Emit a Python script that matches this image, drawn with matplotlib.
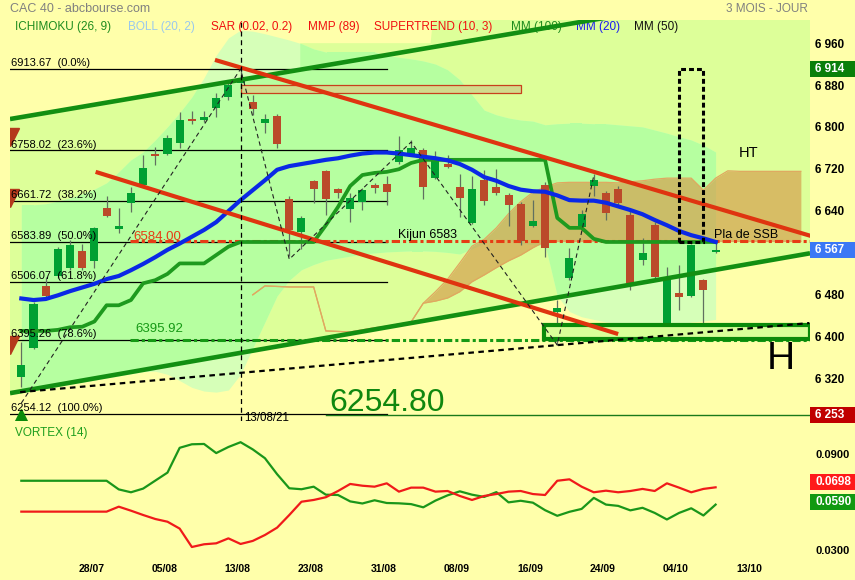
import numpy as np
import matplotlib.pyplot as plt
from matplotlib.patches import Rectangle, Polygon
from matplotlib.transforms import blended_transform_factory

plt.rcParams['font.family'] = ['Liberation Sans', 'DejaVu Sans']

# ---------------- data ----------------
date_labels = ['28/07', '05/08', '13/08', '23/08', '31/08', '08/09', '16/09', '24/09', '04/10', '13/10']
date_pos = [6, 12, 18, 24, 30, 36, 42, 48, 54, 60]

opens = [6325, 6381, 6499, 6518, 6533, 6566, 6547, 6647, 6607, 6657,
         6692, 6751, 6751, 6772, 6819, 6817, 6840, 6861, 6886, 6850,
         6811, 6824, 6665, 6603, 6700, 6719, 6684, 6646, 6659, 6690,
         6693, 6735, 6751, 6759, 6705, 6732, 6689, 6619, 6702, 6689,
         6673, 6655, 6614, 6691, 6450, 6514, 6611, 6690, 6676, 6684,
         6635, 6549, 6616, 6428, 6485, 6480, 6510, 6563]
highs = [6392, 6469, 6517, 6574, 6587, 6580, 6611, 6670, 6647, 6689,
         6749, 6765, 6788, 6832, 6833, 6833, 6867, 6889, 6914, 6864,
         6828, 6828, 6671, 6633, 6702, 6721, 6686, 6676, 6686, 6696,
         6709, 6786, 6778, 6762, 6756, 6749, 6713, 6709, 6721, 6722,
         6677, 6660, 6663, 6698, 6472, 6571, 6644, 6713, 6680, 6690,
         6644, 6590, 6622, 6535, 6539, 6580, 6512, 6582]
lows = [6305, 6378, 6478, 6515, 6530, 6530, 6533, 6630, 6600, 6641,
        6690, 6731, 6749, 6763, 6808, 6813, 6822, 6854, 6875, 6826,
        6791, 6762, 6556, 6569, 6658, 6635, 6668, 6622, 6645, 6676,
        6654, 6733, 6749, 6666, 6703, 6724, 6630, 6617, 6654, 6673,
        6614, 6577, 6611, 6554, 6386, 6510, 6606, 6670, 6625, 6650,
        6491, 6539, 6513, 6415, 6453, 6478, 6426, 6562]
closes = [6348, 6464, 6480, 6570, 6578, 6533, 6609, 6633, 6613, 6677,
          6724, 6747, 6781, 6816, 6815, 6820, 6858, 6883, 6893, 6837,
          6819, 6770, 6606, 6628, 6684, 6665, 6676, 6668, 6682, 6687,
          6679, 6759, 6763, 6689, 6740, 6726, 6668, 6684, 6662, 6676,
          6654, 6584, 6623, 6571, 6456, 6552, 6637, 6702, 6638, 6657,
          6505, 6561, 6517, 6517, 6477, 6577, 6491, 6567]

mm20 = [6475, 6472, 6474, 6481, 6489, 6496, 6503, 6512, 6518, 6529,
        6541, 6554, 6568, 6580, 6593, 6606, 6621, 6642, 6663, 6682,
        6701, 6721, 6728, 6732, 6736, 6740, 6743, 6748, 6752, 6754,
        6754, 6752, 6749, 6746, 6743, 6739, 6732, 6721, 6707, 6700,
        6690, 6683, 6680, 6679, 6672, 6663, 6662, 6662, 6658, 6651,
        6644, 6636, 6625, 6615, 6604, 6596, 6590, 6583]
kijun = [6413, 6413, 6413, 6415, 6420, 6421, 6431, 6462, 6462, 6472,
         6504, 6510, 6522, 6542, 6542, 6542, 6558, 6574, 6583, 6583,
         6583, 6583, 6583, 6583, 6583, 6615, 6650, 6690, 6711, 6715,
         6717, 6722, 6734, 6740, 6740, 6740, 6740, 6740, 6740, 6740,
         6740, 6740, 6740, 6740, 6629, 6610, 6610, 6589, 6583, 6583,
         6583, 6583, 6583, 6583, 6583, 6583, 6583, 6583]
boll_up = [6654, 6654, 6656, 6661, 6667, 6675, 6684, 6696, 6717, 6740,
           6755, 6778, 6803, 6830, 6860, 6897, 6940, 6973, 6988, 6986,
           6981, 6975, 6969, 6962, 6952, 6946, 6946, 6946, 6946, 6946,
           6940, 6936, 6933, 6929, 6923, 6912, 6893, 6864, 6835, 6826,
           6820, 6816, 6814, 6807, 6809, 6810, 6810, 6809, 6809, 6807,
           6805, 6803, 6797, 6791, 6784, 6778, 6768, 6755]
boll_lo = [6295, 6299, 6303, 6307, 6311, 6315, 6319, 6323, 6327, 6331,
           6335, 6336, 6330, 6318, 6305, 6298, 6296, 6300, 6330, 6380,
           6430, 6480, 6510, 6530, 6540, 6548, 6552, 6556, 6560, 6562,
           6564, 6565, 6566, 6566, 6565, 6563, 6560, 6570, 6580, 6590,
           6585, 6580, 6578, 6578, 6480, 6450, 6440, 6435, 6430, 6428,
           6420, 6415, 6415, 6420, 6425, 6430, 6432, 6435]

cloud_x = list(range(19, 65))
ssa = [6482, 6499, 6498, 6497, 6497, 6497, 6413, 6412, 6411, 6415,
       6419, 6422, 6426, 6430, 6466, 6488, 6512, 6543, 6575, 6588,
       6610, 6637, 6660, 6678, 6688, 6696, 6697, 6697, 6697, 6697,
       6696, 6698, 6700, 6703, 6705, 6705, 6705, 6682, 6705, 6719,
       6718, 6718, 6718, 6718, 6718, 6718]
ssb = [6482, 6499, 6498, 6497, 6497, 6497, 6413, 6412, 6411, 6415,
       6419, 6422, 6426, 6430, 6466, 6470, 6476, 6488, 6507, 6520,
       6534, 6547, 6558, 6572, 6584, 6584, 6584, 6584, 6584, 6584,
       6584, 6584, 6584, 6584, 6584, 6584, 6584, 6584, 6584, 6584,
       6584, 6584, 6584, 6584, 6584, 6584]

vi_plus = [0.0739, 0.0739, 0.0739, 0.0739, 0.0739, 0.0739, 0.0739, 0.0739, 0.0685, 0.0667,
           0.0690, 0.0740, 0.0790, 0.0945, 0.0967, 0.0969, 0.0912, 0.0950, 0.0980, 0.0935,
           0.0880, 0.0780, 0.0692, 0.0686, 0.0702, 0.0652, 0.0650, 0.0610, 0.0597, 0.0617,
           0.0600, 0.0598, 0.0593, 0.0573, 0.0615, 0.0648, 0.0673, 0.0652, 0.0638, 0.0668,
           0.0604, 0.0614, 0.0602, 0.0555, 0.0520, 0.0545, 0.0563, 0.0632, 0.0590, 0.0582,
           0.0554, 0.0570, 0.0538, 0.0497, 0.0538, 0.0567, 0.0522, 0.0590]
vi_minus = [0.0546, 0.0546, 0.0546, 0.0546, 0.0546, 0.0546, 0.0546, 0.0546, 0.0577, 0.0552,
            0.0525, 0.0500, 0.0483, 0.0440, 0.0325, 0.0342, 0.0348, 0.0379, 0.0344, 0.0363,
            0.0400, 0.0446, 0.0525, 0.0608, 0.0619, 0.0636, 0.0675, 0.0719, 0.0708, 0.0702,
            0.0723, 0.0671, 0.0696, 0.0696, 0.0671, 0.0675, 0.0644, 0.0619, 0.0644, 0.0656,
            0.0671, 0.0675, 0.0656, 0.0650, 0.0739, 0.0748, 0.0702, 0.0667, 0.0677, 0.0667,
            0.0675, 0.0688, 0.0675, 0.0723, 0.0696, 0.0667, 0.0688, 0.0698]

fib_levels = [6913.67, 6758.02, 6661.72, 6583.89, 6506.07, 6395.26, 6254.12]
fib_pcts = ['0.0%', '23.6%', '38.2%', '50.0%', '61.8%', '78.6%', '100.0%']

zigzag_x = [0, 18, 22, 32, 44, 47]
zigzag_y = [6275, 6913.67, 6550, 6774, 6386, 6710]

chan_up = ([-0.93, 46.8], [6818, 7007])
chan_dn = ([-0.93, 64.9], [6294, 6562])
red_up = ([15.9, 64.9], [6931, 6594])
red_dn = ([6.1, 49.0], [6717, 6407])
dash_trend = ([-0.1, 64.7], [6296, 6428])
# lime zone above the upper channel line (top edge, left to right)
zone_top_x = [22.9, 33.6, 33.8]
zone_top_y = [6963, 6963, 7010]

kijun_lvl = 6584.00
support_lvl = 6395.92
last_close = 6567
low_lvl = 6253
vortex_ticks = [0.0900, 0.0300]
price_ticks = [6960, 6880, 6800, 6720, 6640, 6480, 6400, 6320]

# ---------------- figure ----------------
W, H = 855, 580
YEL = '#FFFFAA'


def fx(x):
    return x / W


def fy(y):
    return 1 - y / H


def line_fn(pts):
    (x0, x1), (y0, y1) = pts
    k = (y1 - y0) / (x1 - x0)
    return lambda x: y0 + k * (np.asarray(x) - x0)


fig = plt.figure(figsize=(8.55, 5.8), dpi=100, facecolor=YEL)
ax = fig.add_axes([fx(10), fy(421), 800 / W, 401 / H])
axv = fig.add_axes([fx(10), fy(562), 800 / W, 141 / H])
for a in (ax, axv):
    a.set_facecolor(YEL)
    a.set_xticks([])
    a.set_yticks([])
    for s in a.spines.values():
        s.set_visible(False)

XMIN, XMAX = -0.93, 64.75
YMIN, YMAX = 6240.8, 7007.3
ax.set_xlim(XMIN, XMAX)
ax.set_ylim(YMIN, YMAX)
axv.set_xlim(XMIN, XMAX)
axv.set_ylim(0.023125, 0.11125)

idx = np.arange(len(closes))
xs = np.array([XMIN, XMAX])
up_f, dn_f = line_fn(chan_up), line_fn(chan_dn)

# lime zone: channel plus the patch above it
x_cross = zone_top_x[0]
zone = [[XMIN, float(dn_f(XMIN))], [XMAX, float(dn_f(XMAX))], [XMAX, YMAX + 20]]
zone += [[x, y] for x, y in zip(zone_top_x[::-1], zone_top_y[::-1])]
zone += [[x_cross, float(up_f(x_cross))], [XMIN, float(up_f(XMIN))]]
ax.add_patch(Polygon(zone, closed=True, fc='#DDFF99', ec='none', zorder=1))
clip_poly = Polygon(zone, closed=True, transform=ax.transData)

# bollinger band
ax.fill_between(idx, boll_lo, boll_up, color='#D6FFB8', lw=0, zorder=1.2)
bb_in = ax.fill_between(idx, boll_lo, boll_up, color='#B6FFA0', lw=0, zorder=1.3)
bb_in.set_clip_path(clip_poly)

# ichimoku cloud
ax.fill_between(cloud_x, ssb, ssa, color='#D59A4A', alpha=0.65, lw=0, zorder=2)
ax.plot(cloud_x, ssa, color='#E0A860', lw=0.9, zorder=2.1)
ax.plot(cloud_x, ssb, color='#E0A860', lw=0.9, zorder=2.1)

# fibonacci retracements
for lvl, pct in zip(fib_levels, fib_pcts):
    ax.plot([XMIN, 30], [lvl, lvl], color='black', lw=0.9, zorder=3)
    ax.text(-0.85, lvl + 1.5, f'{lvl:.2f}  ({pct})', fontsize=8, va='bottom', ha='left', zorder=8)

ls_dd = (0, (2.7, 1.0, 1.0, 1.0))
ax.plot([8.95, XMAX], [kijun_lvl, kijun_lvl], color='#E63C14', lw=2.2, ls=ls_dd, zorder=3.5)
ax.plot([8.95, XMAX], [support_lvl, support_lvl], color='#159915', lw=2.2, ls=ls_dd, zorder=3.5)
ax.plot([25, XMAX], [low_lvl, low_lvl], color='#1A7A1A', lw=1, zorder=3)

ax.add_patch(Rectangle((18, 6867), 23, 16, fc='#D2DA8C', ec='#C8401C', lw=0.9, zorder=3))

# candles
o, c = np.array(opens), np.array(closes)
up = c >= o
cols = np.where(up, '#00A032', '#BB4A2A')
ax.vlines(idx, lows, highs, color='#607060', lw=0.9, zorder=4)
ax.bar(idx, np.maximum(np.abs(c - o), 4), bottom=np.minimum(o, c), width=0.66,
       color=cols, lw=0, zorder=4.2)

ax.plot(idx, kijun, color='#1E9A1E', lw=2.7, zorder=4.5)
ax.plot(idx, mm20, color='#0A28E6', lw=3, zorder=5)

ax.add_patch(Rectangle((42.9, 6397.5), XMAX - 42.9, 26.8, fc='#D8FF99', ec='#0A8A0A', lw=3, zorder=5.5))

# trend lines
ax.plot(xs, up_f(xs), color='#128F12', lw=3.3, zorder=6, solid_capstyle='butt')
ax.plot(xs, dn_f(xs), color='#128F12', lw=3.3, zorder=6, solid_capstyle='butt')
for pts in (red_up, red_dn):
    ax.plot(pts[0], pts[1], color='#DF3410', lw=3.0, zorder=6, solid_capstyle='butt')
ax.plot(dash_trend[0], dash_trend[1], color='black', lw=1.6, ls=(0, (2.5, 2)), zorder=7)
ax.plot(zigzag_x, zigzag_y, color='#222222', lw=0.8, ls=(0, (4, 3)), zorder=7)
ax.axvline(18, color='black', lw=0.9, ls=(0, (4, 3)), zorder=7)
ax.add_patch(Rectangle((54, fib_levels[3]), 2, fib_levels[0] - fib_levels[3], fill=False,
                       ec='black', lw=2.2, ls=(0, (1.6, 1.0)), zorder=7))

# markers at the left edge
ax.plot([XMIN] * 3, [6784, 6668, 6386], ls='none', marker='v', ms=13, color='#B43A1C', zorder=6)
ax.plot([0], [6244], ls='none', marker='^', ms=15, color='#0A8A0A', zorder=6)

# annotations in the price panel
fig.text(fx(133), fy(240), f'{kijun_lvl:.2f}', color='#E63C14', fontsize=9.5, va='baseline')
fig.text(fx(135), fy(332), f'{support_lvl:.2f}', color='#159915', fontsize=9.5, va='baseline')
fig.text(fx(398), fy(238), 'Kijun 6583', fontsize=9, va='baseline')
fig.text(fx(714), fy(238), 'Pla de SSB', fontsize=9, va='baseline')
fig.text(fx(749), fy(153), 'HT', fontsize=10.5, ha='center', va='center')
fig.text(fx(767), fy(369), 'H', fontsize=28, va='baseline')
fig.text(fx(329), fy(411), '6254.80', fontsize=23, color='#0F870F', va='baseline')
fig.text(fx(244), fy(412), '13/08/21', fontsize=8.3, va='top')

# header and legend row
fig.text(fx(10), fy(9), 'CAC 40 - abcbourse.com', fontsize=9, color='#808080', va='center')
fig.text(fx(808), fy(9), '3 MOIS - JOUR', fontsize=8.5, color='#808080', va='center', ha='right')
legend = [('ICHIMOKU (26, 9)', 15, '#1E8C1E'), ('BOLL (20, 2)', 128, '#99C8EE'),
          ('SAR (0.02, 0.2)', 211, '#F01010'), ('MMP (89)', 308, '#F01010'),
          ('SUPERTREND (10, 3)', 374, '#F01010'), ('MM (100)', 511, '#1E8C1E'),
          ('MM (20)', 576, '#1A1AF0'), ('MM (50)', 634, '#111111')]
for txt, x, col in legend:
    ax.text(fx(x), fy(27), txt, color=col, fontsize=8.5, va='center', transform=fig.transFigure, zorder=5.8)

# right axis labels
tr_main = blended_transform_factory(fig.transFigure, ax.transData)
for v in price_ticks:
    ax.text(fx(815), v, f'{v:,}'.replace(',', ' '), transform=tr_main, fontsize=8.5,
            fontweight='bold', va='center', clip_on=False)
tr_v = blended_transform_factory(fig.transFigure, axv.transData)
for v in vortex_ticks:
    axv.text(fx(815), v, f'{v:.4f}', transform=tr_v, fontsize=8, fontweight='bold',
             va='center', clip_on=False)

fig.canvas.draw()


def value_box(a, val, text, color, shift_px=0):
    ypx = a.transData.transform((0, val))[1] + shift_px
    yf = ypx / fig.bbox.height
    fig.add_artist(Rectangle((fx(810), yf - 8 / H), 45 / W, 16 / H, transform=fig.transFigure,
                             fc=color, ec='none', zorder=10))
    fig.text(fx(815), yf, text, color='white', fontsize=8.5, fontweight='bold', va='center', zorder=11)


value_box(ax, fib_levels[0], '6 914', '#0A7F0A')
value_box(ax, last_close, '6 567', '#3B78F5')
value_box(ax, low_lvl, '6 253', '#C00000')
value_box(axv, vi_minus[-1], f'{vi_minus[-1]:.4f}', '#FF1A1A', shift_px=5)
value_box(axv, vi_plus[-1], f'{vi_plus[-1]:.4f}', '#119911', shift_px=2.5)

# vortex panel
axv.plot(idx, vi_plus, color='#1A961A', lw=1.6)
axv.plot(idx, vi_minus, color='#F01A1A', lw=1.6)
fig.text(fx(15), fy(433), 'VORTEX (14)', color='#1E9E1E', fontsize=8.5, va='center')

tr_date = blended_transform_factory(ax.transData, fig.transFigure)
for p, lab in zip(date_pos, date_labels):
    ax.text(p - 0.25, fy(569), lab, transform=tr_date, fontsize=7.5, fontweight='bold',
            ha='center', va='center', clip_on=False)

fig.savefig('out.png', dpi=100, facecolor=YEL)
